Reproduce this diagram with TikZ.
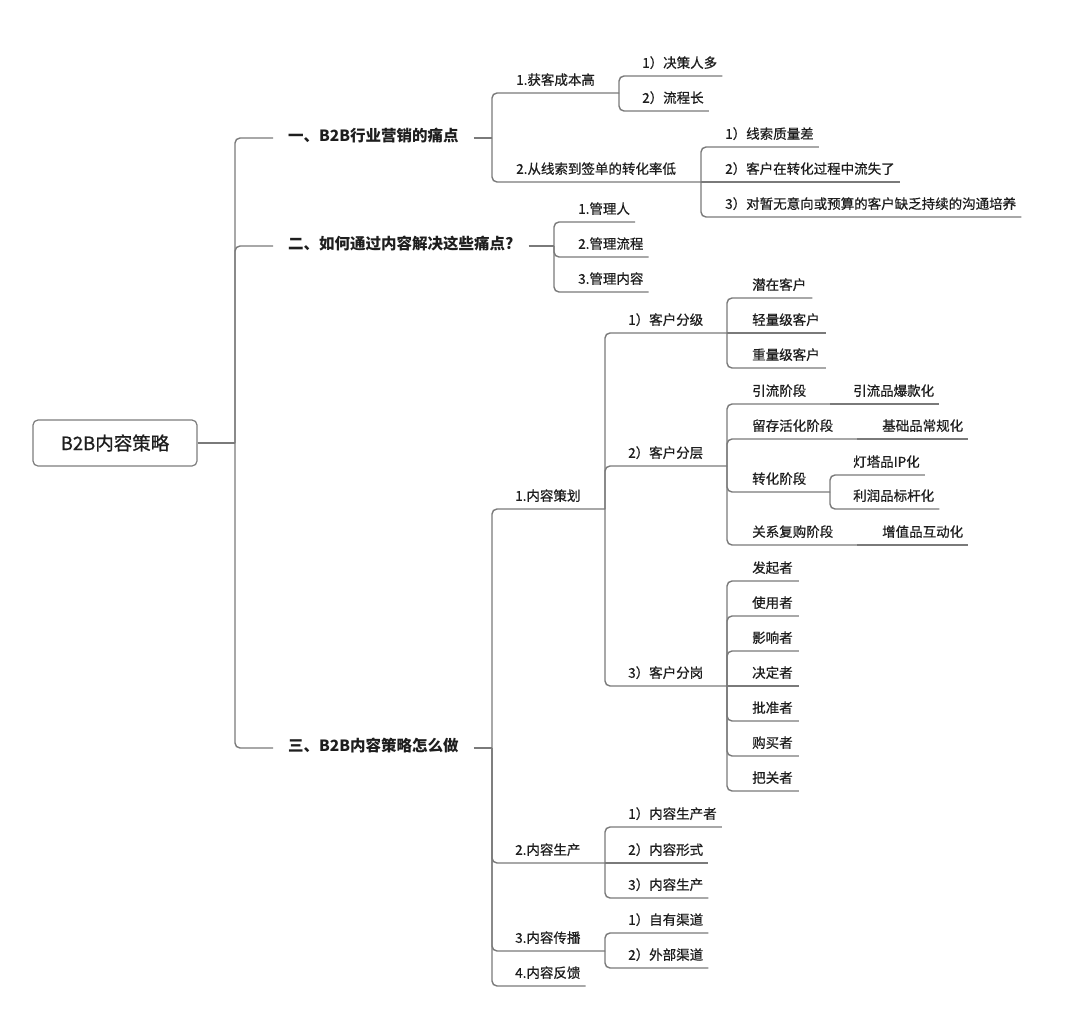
\documentclass[tikz,border=0pt]{standalone}
\usepackage{fontspec}
\setmainfont{Noto Sans CJK SC}[UprightFeatures={FakeBold=0.6}]
\usetikzlibrary{calc}
\definecolor{linegray}{RGB}{122,122,122}
\definecolor{boxgray}{RGB}{125,125,125}
\definecolor{txt}{RGB}{30,30,30}
\tikzset{
  ln/.style={draw=linegray, line width=1.4pt, rounded corners=5pt},
  t/.style={anchor=west, inner sep=0pt, text=txt, text height=0.84em, text depth=0.08em, font=\fontsize{13.5}{16}\selectfont},
  lone/.style={anchor=west, inner sep=0pt, text=txt, text height=0.84em, text depth=0.08em, font=\fontsize{15.5}{18}\selectfont\bfseries},
  rootbox/.style={draw=boxgray, line width=1.2pt, rounded corners=5pt, fill=white, text=txt, minimum width=164pt, minimum height=46pt, inner sep=0pt, font=\fontsize{18.5}{20}\selectfont}
}
\begin{document}
\begin{tikzpicture}[x=1pt,y=-1pt]
\useasboundingbox[fill=white] (0,0) rectangle (1080,1028);

% root
\node[rootbox] (root) at (115,443) {B2B内容策略};
\coordinate (sp) at (235,443);
\draw[ln] (root.east) -- (sp);

% level 1
\node[lone] (La) at (288,138) {一、B2B行业营销的痛点};
\node[lone] (Lb) at (288,246) {二、如何通过内容解决这些痛点?};
\node[lone] (Lc) at (288,748) {三、B2B内容策略怎么做};
\draw[ln] (sp) |- ([xshift=-15pt]La.west);
\draw[ln] (sp) |- ([xshift=-15pt]Lb.west);
\draw[ln] (sp) |- ([xshift=-15pt]Lc.west);
\coordinate (LaJ) at (492,138);
\coordinate (LbJ) at (554,246);
\coordinate (LcJ) at (492,748);
\draw[ln] ([xshift=15pt]La.east) -- (LaJ);
\draw[ln] ([xshift=15pt]Lb.east) -- (LbJ);
\draw[ln] ([xshift=15pt]Lc.east) -- (LcJ);

% ---- branch 一
\node[t] (A1) at (516,81) {1.获客成本高};
\coordinate (A1J) at (619,93);
\draw[ln] (LaJ) |- (A1J);
\node[t] (A2) at (516,170) {2.从线索到签单的转化率低};
\coordinate (A2J) at (701,182);
\draw[ln] (LaJ) |- (A2J);

\node[t] (A11) at (642,64) {1）决策人多};
\node[t] (A12) at (642,99) {2）流程长};
\draw[ln] (A1J) |- ($(A11.east)+(5,12)$);
\draw[ln] (A1J) |- ($(A12.east)+(5,12)$);

\node[t] (A21) at (725,135) {1）线索质量差};
\node[t] (A22) at (725,170) {2）客户在转化过程中流失了};
\node[t] (A23) at (725,205) {3）对暂无意向或预算的客户缺乏持续的沟通培养};
\draw[ln] (A2J) |- ($(A21.east)+(5,12)$);
\draw[ln] (A2J) -- ($(A22.east)+(5,12)$);
\draw[ln] (A2J) |- ($(A23.east)+(5,12)$);

% ---- branch 二
\node[t] (B1) at (578,210) {1.管理人};
\node[t] (B2) at (578,245) {2.管理流程};
\node[t] (B3) at (578,280) {3.管理内容};
\draw[ln] (LbJ) |- ($(B1.east)+(5,12)$);
\draw[ln] (LbJ) |- ($(B2.east)+(5,12)$);
\draw[ln] (LbJ) |- ($(B3.east)+(5,12)$);

% ---- branch 三
\node[t] (C1) at (515,497) {1.内容策划};
\coordinate (C1J) at (605,509);
\node[t] (C2) at (515,851) {2.内容生产};
\coordinate (C2J) at (605,863);
\node[t] (C3) at (515,939) {3.内容传播};
\coordinate (C3J) at (605,951);
\node[t] (C4) at (515,974) {4.内容反馈};
\draw[ln] (LcJ) |- (C1J);
\draw[ln] (LcJ) |- (C2J);
\draw[ln] (LcJ) |- (C3J);
\draw[ln] (LcJ) |- ($(C4.east)+(5,12)$);

% 1.内容策划
\node[t] (C11) at (628,321) {1）客户分级};
\coordinate (C11J) at (727,333);
\node[t] (C12) at (628,454) {2）客户分层};
\coordinate (C12J) at (727,466);
\node[t] (C13) at (628,674) {3）客户分岗};
\coordinate (C13J) at (727,686);
\draw[ln] (C1J) |- (C11J);
\draw[ln] (C1J) |- (C12J);
\draw[ln] (C1J) |- (C13J);

% 客户分级
\node[t] (G1) at (752,286) {潜在客户};
\node[t] (G2) at (752,321) {轻量级客户};
\node[t] (G3) at (752,356) {重量级客户};
\draw[ln] (C11J) |- ($(G1.east)+(6,12)$);
\draw[ln] (C11J) -- ($(G2.east)+(6,12)$);
\draw[ln] (C11J) |- ($(G3.east)+(6,12)$);

% 客户分层
\node[t] (D1) at (752,392) {引流阶段};
\coordinate (D1J) at (830,404);
\node[t] (D2) at (752,427) {留存活化阶段};
\coordinate (D2J) at (857,439);
\node[t] (D3) at (752,480) {转化阶段};
\coordinate (D3J) at (830,492);
\node[t] (D4) at (752,533) {关系复购阶段};
\coordinate (D4J) at (857,545);
\draw[ln] (C12J) |- (D1J);
\draw[ln] (C12J) |- (D2J);
\draw[ln] (C12J) |- (D3J);
\draw[ln] (C12J) |- (D4J);

\node[t] (E1) at (853,392) {引流品爆款化};
\node[t] (E2) at (882,427) {基础品常规化};
\node[t] (E3) at (853,463) {灯塔品IP化};
\node[t] (E4) at (853,497) {利润品标杆化};
\node[t] (E5) at (882,533) {增值品互动化};
\draw[ln] (D1J) -- ($(E1.east)+(5,12)$);
\draw[ln] (D2J) -- ($(E2.east)+(5,12)$);
\draw[ln] (D3J) |- ($(E3.east)+(5,12)$);
\draw[ln] (D3J) |- ($(E4.east)+(5,12)$);
\draw[ln] (D4J) -- ($(E5.east)+(5,12)$);

% 客户分岗
\node[t] (R1) at (752,569) {发起者};
\node[t] (R2) at (752,604) {使用者};
\node[t] (R3) at (752,639) {影响者};
\node[t] (R4) at (752,674) {决定者};
\node[t] (R5) at (752,709) {批准者};
\node[t] (R6) at (752,744) {购买者};
\node[t] (R7) at (752,779) {把关者};
\draw[ln] (C13J) |- ($(R1.east)+(6,12)$);
\draw[ln] (C13J) |- ($(R2.east)+(6,12)$);
\draw[ln] (C13J) |- ($(R3.east)+(6,12)$);
\draw[ln] (C13J) -- ($(R4.east)+(6,12)$);
\draw[ln] (C13J) |- ($(R5.east)+(6,12)$);
\draw[ln] (C13J) |- ($(R6.east)+(6,12)$);
\draw[ln] (C13J) |- ($(R7.east)+(6,12)$);

% 2.内容生产
\node[t] (P1) at (628,815) {1）内容生产者};
\node[t] (P2) at (628,851) {2）内容形式};
\node[t] (P3) at (628,886) {3）内容生产};
\draw[ln] (C2J) |- ($(P1.east)+(5,12)$);
\draw[ln] (C2J) -- ($(P2.east)+(5,12)$);
\draw[ln] (C2J) |- ($(P3.east)+(5,12)$);

% 3.内容传播
\node[t] (S1) at (628,921) {1）自有渠道};
\node[t] (S2) at (628,956) {2）外部渠道};
\draw[ln] (C3J) |- ($(S1.east)+(5,12)$);
\draw[ln] (C3J) |- ($(S2.east)+(5,12)$);
\end{tikzpicture}
\end{document}
